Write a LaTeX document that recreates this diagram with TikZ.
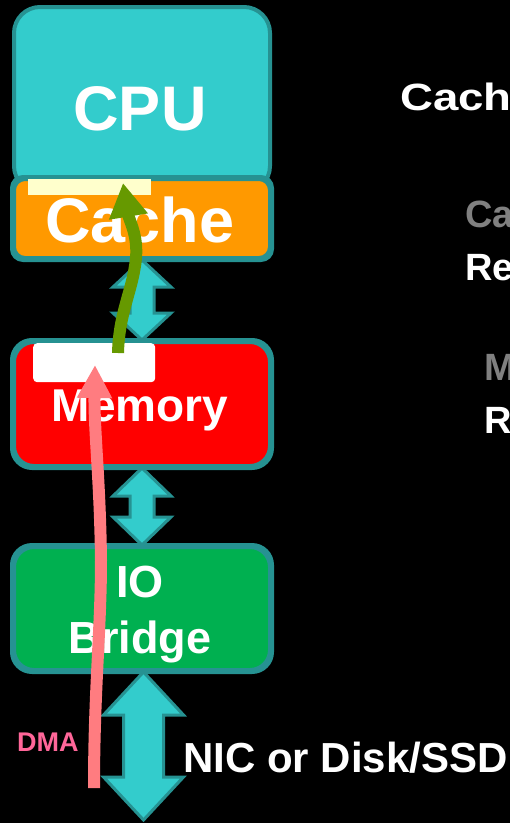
\documentclass[tikz,border=0pt]{standalone}
\usepackage{fontspec}
\setmainfont{Liberation Sans}
\usetikzlibrary{arrows.meta,calc}
\definecolor{tealfill}{HTML}{33CCCC}
\definecolor{tealline}{HTML}{269292}
\definecolor{orangec}{HTML}{FF9900}
\definecolor{redm}{HTML}{FF0000}
\definecolor{greenio}{HTML}{00B050}
\definecolor{creamc}{HTML}{FFFFCC}
\definecolor{olivea}{HTML}{669900}
\definecolor{pinka}{HTML}{FF7C80}
\definecolor{dmac}{HTML}{FF6699}
\definecolor{grayt}{HTML}{808080}
\newcommand\fsz[1]{\fontsize{#1}{#1}\selectfont\bfseries}
\newcommand\dblarr[5]{%
  \draw[dblarrow] let \p1=(#1), \p2=(#2) in
  (\x2,\y1) -- (\x2+#4pt,\y1-#5pt) -- (\x2+#3pt,\y1-#5pt) -- (\x2+#3pt,\y2+#5pt)
  -- (\x2+#4pt,\y2+#5pt) -- (\x2,\y2) -- (\x2-#4pt,\y2+#5pt) -- (\x2-#3pt,\y2+#5pt)
  -- (\x2-#3pt,\y1-#5pt) -- (\x2-#4pt,\y1-#5pt) -- cycle;}
\begin{document}
\begin{tikzpicture}[x=1pt,y=-1pt,
  box/.style={draw=tealline, line width=4pt, minimum width=256pt, inner sep=0pt, anchor=north west},
  slot/.style={draw=none, inner sep=0pt, anchor=north west},
  lbl/.style={text=white, inner sep=0pt, anchor=base},
  side/.style={inner sep=0pt, anchor=base west},
  dblarrow/.style={fill=tealfill, draw=tealline, line width=3pt, line join=miter},
  greenarr/.style={draw=olivea, line width=12pt, -{Triangle[width=37pt,length=34pt]}},
  pinkarr/.style={draw=pinka, line width=12pt, -{Triangle[width=33pt,length=33pt]}}]
\useasboundingbox (0,0) rectangle (510,823);
\fill[black] (0,0) rectangle (510,823);
\clip (0,0) rectangle (510,823);
% boxes
\node[box, fill=tealfill, minimum height=185pt, rounded corners=26pt] (cpu) at (12,5) {};
\node[box, fill=orangec, minimum height=79pt, rounded corners=11pt] (cache) at (12,177) {};
\node[box, fill=redm, minimum height=124pt, rounded corners=20pt] (mem) at (12,340) {};
\node[box, fill=greenio, minimum height=123pt, rounded corners=20pt] (io) at (12,545) {};
\coordinate (devend) at (143.5,820);
% double arrows
\dblarr{cache.south}{mem.north}{12}{29}{27}
\dblarr{mem.south}{io.north}{12}{29}{28}
\dblarr{io.south}{devend}{20}{40}{43}
% redraw outlines over arrow tips
\draw[tealline, line width=4pt, rounded corners=11pt] (cache.north west) rectangle (cache.south east);
\draw[tealline, line width=4pt, rounded corners=20pt] (mem.north west) rectangle (mem.south east);
\draw[tealline, line width=4pt, rounded corners=20pt] (io.north west) rectangle (io.south east);
% slots
\node[slot, fill=creamc, minimum width=123pt, minimum height=16pt] (cacheslot) at (28,179) {};
\node[slot, fill=white, minimum width=122pt, minimum height=39pt, rounded corners=4pt] (memslot) at (33,343) {};
% texts
\node[lbl, font=\fsz{63}] (cputext) at (140,130) {CPU};
\node[lbl, font=\fsz{63}] (cachetext) at (140,242) {Cache};
\node[lbl, font=\fsz{46}] (memtext) at (140,421) {Memory};
\node[lbl, font=\fsz{45}] (iotext) at (140,597) {IO};
\node[lbl, font=\fsz{45}] (bridgetext) at (140,653) {Bridge};
\node[side, text=dmac, font=\fsz{27}] (dma) at (17,751) {DMA};
\node[side, text=white, font=\fsz{42}] (nic) at (183,772) {NIC or Disk/SSD};
\node[side, text=white, font=\fsz{38}] (t1) at (400,110) {\scalebox{1.2}[1]{Cach}};
\node[side, text=grayt, font=\fsz{38}] (t2) at (465,227) {Ca};
\node[side, text=white, font=\fsz{38}] (t3) at (465,280) {Re};
\node[side, text=grayt, font=\fsz{38}] (t4) at (484,380) {M};
\node[side, text=white, font=\fsz{38}] (t5) at (484,433) {R};
% flow arrows
\coordinate (g0) at (118,353);
\coordinate (gm) at (136,258);
\coordinate (g1) at (123,183);
\draw[greenarr] (g0) .. controls (119,312) and (133,290) .. (gm) .. controls (138,235) and (129,220) .. (g1);
\coordinate (p0) at (94,788);
\coordinate (pm) at (101,560);
\coordinate (p1) at (95,365);
\draw[pinkarr] (p0) .. controls (94,690) and (101,630) .. (pm) .. controls (100,480) and (94,430) .. (p1);
\end{tikzpicture}
\end{document}
